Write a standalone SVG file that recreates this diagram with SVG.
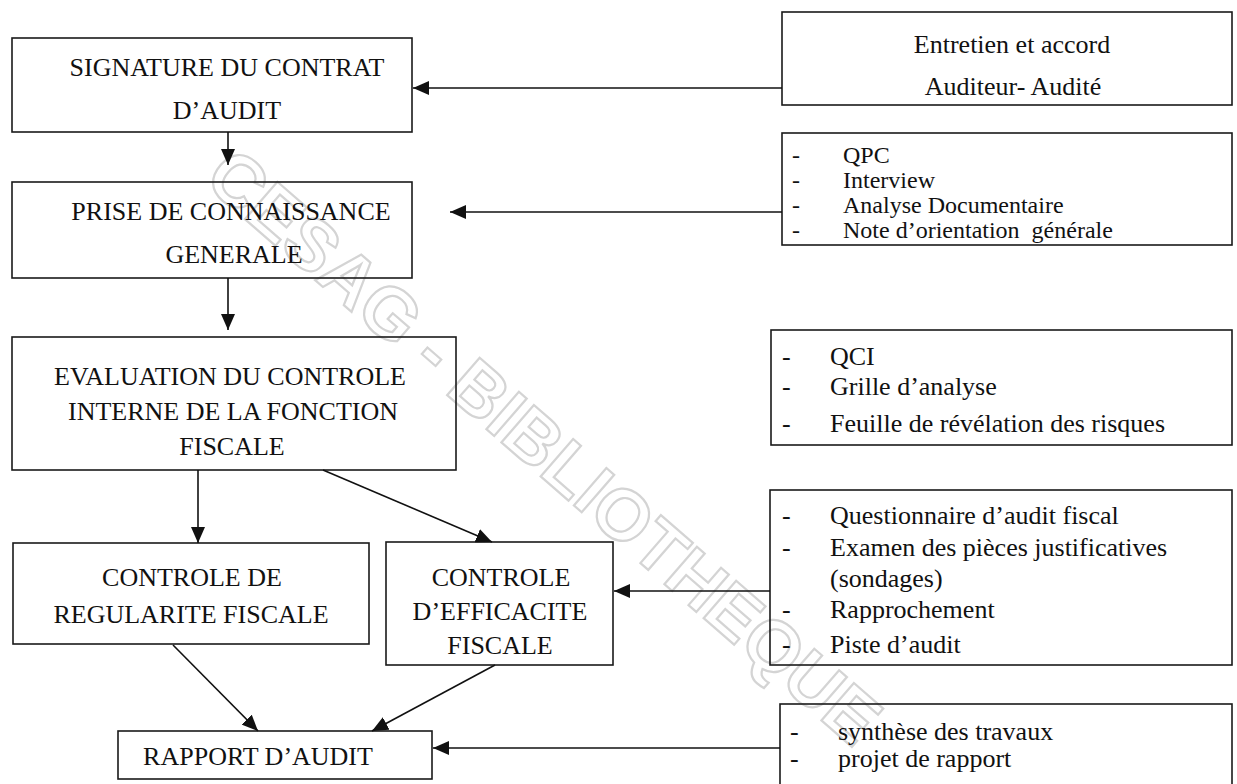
<svg xmlns="http://www.w3.org/2000/svg" width="1237" height="784" viewBox="0 0 1237 784">
<style>
  .box { fill: none; stroke: #1a1a1a; stroke-width: 1.6; }
  .t { font-family: "Liberation Serif", "Times New Roman", serif; font-size: 26px; fill: #111; }
  .s { font-size: 24px; }
  .c { text-anchor: middle; }
  .conn { stroke: #111; stroke-width: 1.6; fill: none; marker-end: url(#ah); }
  .wm { font-family: "Liberation Sans", Arial, sans-serif; font-size: 72px; font-weight: bold; fill: none; stroke: #d4d4d4; stroke-width: 2.2; }
</style>
<defs>
  <marker id="ah" markerUnits="userSpaceOnUse" markerWidth="16" markerHeight="14" refX="16" refY="7" orient="auto">
    <path d="M0,0 L16,7 L0,14 z" fill="#111"/>
  </marker>
</defs>
<rect width="1237" height="784" fill="#fff"/>
<text class="wm" transform="translate(202,182) rotate(41)">CESAG - BIBLIOTHEQUE</text>

<g id="n-signature">
  <rect class="box" x="12" y="38" width="400" height="94"/>
  <text class="t c" x="227" y="76">SIGNATURE DU CONTRAT</text>
  <text class="t c" x="227" y="119">D’AUDIT</text>
</g>
<g id="n-prise">
  <rect class="box" x="12" y="182" width="400" height="96"/>
  <text class="t c" x="231" y="220">PRISE DE CONNAISSANCE</text>
  <text class="t c" x="234" y="263">GENERALE</text>
</g>
<g id="n-evaluation">
  <rect class="box" x="12" y="337" width="444" height="133"/>
  <text class="t c" x="230" y="385">EVALUATION DU CONTROLE</text>
  <text class="t c" x="233" y="420">INTERNE DE LA FONCTION</text>
  <text class="t c" x="232" y="455">FISCALE</text>
</g>
<g id="n-regularite">
  <rect class="box" x="13" y="543" width="356" height="101"/>
  <text class="t c" x="192" y="586">CONTROLE DE</text>
  <text class="t c" x="191" y="623">REGULARITE FISCALE</text>
</g>
<g id="n-efficacite">
  <rect class="box" x="386" y="542" width="227" height="123"/>
  <text class="t c" x="501" y="586">CONTROLE</text>
  <text class="t c" x="500" y="620">D’EFFICACITE</text>
  <text class="t c" x="500" y="654">FISCALE</text>
</g>
<g id="n-rapport">
  <rect class="box" x="118" y="731" width="314" height="48"/>
  <text class="t c" x="258" y="765">RAPPORT D’AUDIT</text>
</g>

<g id="n-entretien">
  <rect class="box" x="782" y="12" width="450" height="93"/>
  <text class="t c" x="1012" y="53">Entretien et accord</text>
  <text class="t c" x="1013" y="95">Auditeur- Audité</text>
</g>
<g id="n-outils-prise">
  <rect class="box" x="782" y="133" width="450" height="112"/>
  <text class="t s" x="792" y="163">-</text><text class="t s" x="843" y="163">QPC</text>
  <text class="t s" x="792" y="188">-</text><text class="t s" x="843" y="188">Interview</text>
  <text class="t s" x="792" y="213">-</text><text class="t s" x="843" y="213">Analyse Documentaire</text>
  <text class="t s" x="792" y="238">-</text><text class="t s" x="843" y="238" xml:space="preserve">Note d’orientation  générale</text>
</g>
<g id="n-outils-evaluation">
  <rect class="box" x="771" y="330" width="461" height="115"/>
  <text class="t" x="782" y="365">-</text><text class="t" x="830" y="365">QCI</text>
  <text class="t" x="782" y="395">-</text><text class="t" x="830" y="395">Grille d’analyse</text>
  <text class="t" x="782" y="432">-</text><text class="t" x="830" y="432">Feuille de révélation des risques</text>
</g>
<g id="n-outils-controle">
  <rect class="box" x="770" y="490" width="462" height="175"/>
  <text class="t" x="782" y="524">-</text><text class="t" x="830" y="524">Questionnaire d’audit fiscal</text>
  <text class="t" x="782" y="556">-</text><text class="t" x="830" y="556">Examen des pièces justificatives</text>
  <text class="t" x="830" y="587">(sondages)</text>
  <text class="t" x="782" y="618">-</text><text class="t" x="830" y="618">Rapprochement</text>
  <text class="t" x="782" y="653">-</text><text class="t" x="830" y="653">Piste d’audit</text>
</g>
<g id="n-outils-rapport">
  <rect class="box" x="780" y="704" width="452" height="100"/>
  <text class="t" x="790" y="740">-</text><text class="t" x="838" y="740">synthèse des travaux</text>
  <text class="t" x="790" y="767">-</text><text class="t" x="838" y="767">projet de rapport</text>
</g>

<g id="connectors">
  <line class="conn" x1="228" y1="132" x2="228" y2="165"/>
  <line class="conn" x1="228" y1="278" x2="228" y2="330"/>
  <line class="conn" x1="198" y1="470" x2="198" y2="543"/>
  <line class="conn" x1="323" y1="470" x2="492" y2="542"/>
  <line class="conn" x1="173" y1="645" x2="258" y2="731"/>
  <line class="conn" x1="495" y1="665" x2="372" y2="731"/>
  <line class="conn" x1="782" y1="88" x2="413" y2="88"/>
  <line class="conn" x1="782" y1="212" x2="450" y2="212"/>
  <line class="conn" x1="770" y1="591" x2="614" y2="591"/>
  <line class="conn" x1="780" y1="748" x2="433" y2="748"/>
</g>
</svg>
